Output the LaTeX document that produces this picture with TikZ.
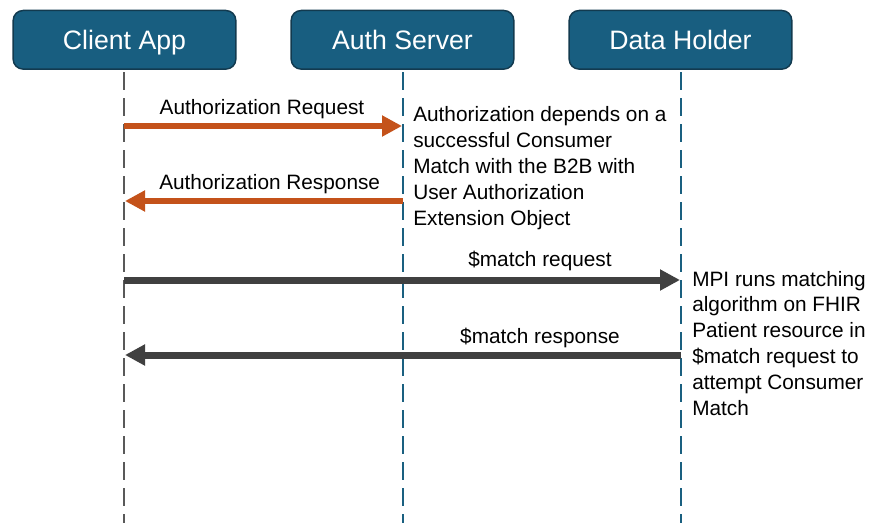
\documentclass[tikz,border=0pt]{standalone}
\usepackage{fontspec}
\setmainfont{Liberation Sans}
\usetikzlibrary{arrows.meta}
\definecolor{hdrfill}{HTML}{185E80}
\definecolor{hdrborder}{HTML}{123A4F}
\definecolor{lifeblue}{HTML}{1A6080}
\definecolor{lifegray}{HTML}{595959}
\definecolor{authorange}{HTML}{C4521A}
\definecolor{matchgray}{HTML}{404040}
\tikzset{
  hdr/.style={draw=hdrborder, line width=1.1pt, fill=hdrfill, rounded corners=7.5pt,
    minimum width=167pt, minimum height=44pt, inner sep=0pt, text=white,
    text height=15pt, text depth=0.8pt,
    font=\fontsize{20}{24}\selectfont},
  lifeline/.style={line width=1.5pt, dash pattern=on 13.5pt off 6pt},
  msgtxt/.style={inner sep=0pt, font=\fontsize{15.6}{19.4}\selectfont},
  notetxt/.style={inner sep=0pt, align=left, anchor=north west, font=\fontsize{15.6}{19.35}\selectfont},
  authmsg/.style={draw=authorange, line width=5pt, -{Triangle[length=15pt,width=15pt]}},
  matchmsg/.style={draw=matchgray, line width=5.25pt, -{Triangle[length=15pt,width=15pt]}}
}
\begin{document}
\begin{tikzpicture}[x=0.75pt,y=-0.75pt]
\useasboundingbox (0,0) rectangle (879,532);
% headers
\node[hdr] (client) at (124.5,39.8) {Client App};
\node[hdr] (auth) at (402.5,39.8) {Auth Server};
\node[hdr] (data) at (680.5,39.8) {Data Holder};
% lifeline ends
\coordinate (cTop) at (124,72);
\coordinate (cBot) at (124,523);
\coordinate (aTop) at (403,72);
\coordinate (aBot) at (403,523);
\coordinate (dTop) at (681,72);
\coordinate (dBot) at (681,523);
\draw[lifeline, lifegray] (cTop) -- (cBot);
\draw[lifeline, lifeblue] (aTop) -- (aBot);
\draw[lifeline, lifeblue] (dTop) -- (dBot);
% message points
\coordinate (c1) at (124,126);
\coordinate (a1) at (402,126);
\coordinate (a2) at (403,201);
\coordinate (c2) at (125,201);
\coordinate (c3) at (124,280);
\coordinate (d3) at (680,280);
\coordinate (d4) at (681,355);
\coordinate (c4) at (125,355);
\draw[authmsg] (c1) -- (a1);
\draw[authmsg] (a2) -- (c2);
\draw[matchmsg] (c3) -- (d3);
\draw[matchmsg] (d4) -- (c4);
% labels
\node[msgtxt, anchor=base] (l1) at (262,114) {Authorization Request};
\node[msgtxt, anchor=base west] (l2) at (159,189) {Authorization Response};
\node[msgtxt, anchor=base] (l3) at (540,266) {\$match request};
\node[msgtxt, anchor=base] (l4) at (540,343) {\$match response};
% notes
\node[notetxt] (n1) at (413,106.5) {Authorization depends on a\\successful Consumer\\Match with the B2B with\\User Authorization\\Extension Object};
\node[notetxt] (n2) at (692,270.8) {MPI runs matching\\algorithm on FHIR\\Patient resource in\\\$match request to\\attempt Consumer\\Match};
\end{tikzpicture}
\end{document}
